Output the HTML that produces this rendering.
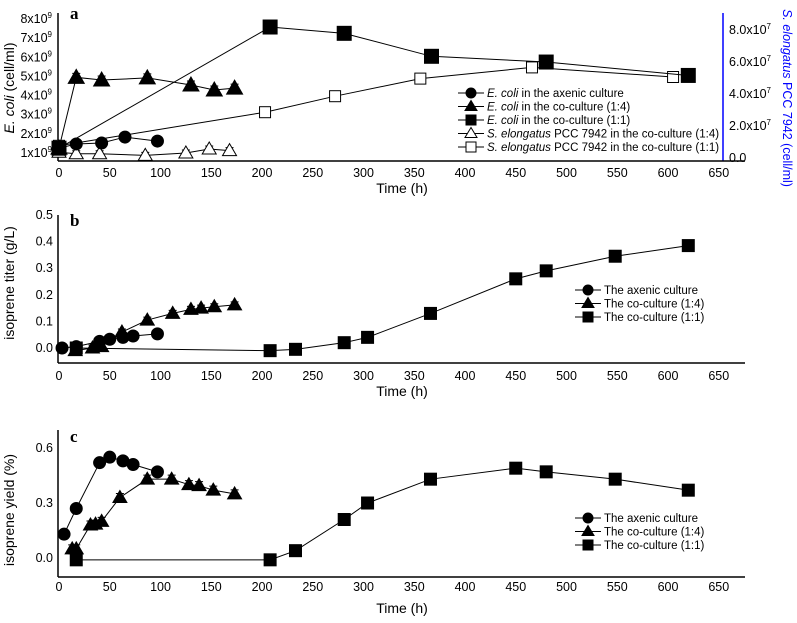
<!DOCTYPE html>
<html><head><meta charset="utf-8"><style>
html,body{margin:0;padding:0;background:#fff;}
svg{display:block;font-family:"Liberation Sans",Arial,sans-serif;}
</style></head><body>
<svg id="chart" width="797" height="623" viewBox="0 0 797 623" xmlns="http://www.w3.org/2000/svg"></svg>
<script>
// ---- data ----
const xTicks = [0,50,100,150,200,250,300,350,400,450,500,550,600,650];
// panel a (E. coli in 1e9 cell/ml, S. elongatus in 1e7 cell/ml)
const aAxenicT = [0,17,42,65,97];
const aAxenicV = [1.2,1.42,1.47,1.78,1.57];
const aCo14T = [0,17,42,87,130,153,173];
const aCo14V = [1.2,4.9,4.76,4.87,4.5,4.24,4.34];
const aCo11T = [0,208,281,367,480,620];
const aCo11V = [1.2,7.53,7.2,6.0,5.7,5.0];
const aSe14T = [0,17,40,85,125,148,168];
const aSe14V = [0.3,0.2,0.2,0.1,0.25,0.5,0.4];
const aSe11T = [0,203,272,356,466,605];
const aSe11V = [0.7,2.8,3.8,4.9,5.6,5.0];
const aLeftTicks = [1,2,3,4,5,6,7,8];
const aRightTicks = [0,2,4,6,8];
const aRightLabels = ["0.0","2.0x10","4.0x10","6.0x10","8.0x10"];
// panel b (isoprene titer g/L)
const bAxenicT = [3,17,40,50,63,73,97];
const bAxenicV = [0,0.005,0.025,0.033,0.04,0.045,0.053];
const bCo14T = [16,33,42,62,87,112,130,140,153,173];
const bCo14V = [-0.01,0,0.005,0.06,0.105,0.13,0.145,0.15,0.155,0.162];
const bCo11T = [17,208,233,281,304,366,450,480,548,620];
const bCo11V = [0,-0.01,-0.005,0.02,0.04,0.13,0.26,0.29,0.345,0.385];
const bTicks = [0,0.1,0.2,0.3,0.4,0.5];
// panel c (isoprene yield %)
const cAxenicT = [5,17,40,50,63,73,97];
const cAxenicV = [0.13,0.27,0.52,0.55,0.53,0.51,0.47];
const cCo14T = [13,17,31,36,42,60,87,111,128,138,152,173];
const cCo14V = [0.05,0.05,0.18,0.185,0.2,0.33,0.43,0.43,0.4,0.395,0.37,0.35];
const cCo11T = [17,208,233,281,304,366,450,480,548,620];
const cCo11V = [-0.01,-0.01,0.04,0.21,0.3,0.43,0.49,0.47,0.43,0.37];
const cTicks = [0,0.3,0.6];

const svg = document.getElementById('chart');
const NS = 'http://www.w3.org/2000/svg';
function el(tag, attrs, parent){const e=document.createElementNS(NS,tag);for(const k in attrs)e.setAttribute(k,attrs[k]);(parent||svg).appendChild(e);return e;}
function xs(t){return 59 + t*1.015;}
function txt(x,y,s,opts,name){const t=el('text',Object.assign({x:x,y:y,'font-size':12,fill:'#000'},opts||{}));t.textContent=s;


return t;}
function marker(shape,x,y,filled,g,s){
  s=s||7;let m;
  const f=filled?'#000':'#fff';
  if(shape==='c') m=el('circle',{cx:x,cy:y,r:s,fill:f,stroke:'#000','stroke-width':1},g);
  else if(shape==='t') m=el('polygon',{points:`${x},${y-s-1} ${x-s-1},${y+s-1} ${x+s+1},${y+s-1}`,fill:f,stroke:'#000','stroke-width':1},g);
  else m=el('rect',{x:x-s,y:y-s,width:2*s,height:2*s,fill:f,stroke:'#000','stroke-width':1},g);
  
  
  return m;
}
function series(T,V,ys,shape,filled,name,s,err){
  const g=el('g',{});
  
  
  const pts=T.map((t,i)=>xs(t)+','+ys(V[i])).join(' ');
  const l=el('polyline',{points:pts,fill:'none',stroke:'#000','stroke-width':1},g);
  
  
  T.forEach((t,i)=>{
    if(err){const x=xs(t),y=ys(V[i]);el('path',{d:`M${x},${y-err} V${y+err} M${x-4},${y-err} H${x+4} M${x-4},${y+err} H${x+4}`,stroke:'#000','stroke-width':1,fill:'none'},g);}
    marker(shape,xs(t),ys(V[i]),filled,g,s);
  });
}
function xAxis(y,labY,titleY,name){
  const g=el('g',{});
  
  
  el('line',{x1:58,y1:y,x2:745,y2:y,stroke:'#000','stroke-width':1.5},g);
  xTicks.forEach(t=>{const tt=txt(xs(t),labY,String(t),{'text-anchor':'middle','font-size':12.5},'x-tick-label');g.appendChild(tt);});
  const ti=txt(402,titleY,'Time (h)',{'text-anchor':'middle','font-size':14},'x-axis-title');g.appendChild(ti);
}
function yAxis(top,bottom,ticks,ys,fmt,name){
  const g=el('g',{});
  
  
  el('line',{x1:58,y1:top,x2:58,y2:bottom,stroke:'#000','stroke-width':1.5},g);
  ticks.forEach(v=>{const t=txt(53,ys(v)+4,fmt(v),{'text-anchor':'end','font-size':12.5},'y-tick-label');g.appendChild(t);});
}

// ---- Panel a ----
const yaL=v=>152-(v-1)*19.14;
const yaR=v=>157-v*16;
yAxis(13,161,[],yaL,v=>'', 'a-left-axis');
aLeftTicks.forEach(v=>{const t=el('text',{x:52,y:yaL(v)+5,'text-anchor':'end','font-size':12.5});


t.innerHTML=v+'x10<tspan dy="-5" font-size="8">9</tspan>';});
const ra=el('line',{x1:723,y1:13,x2:723,y2:161,stroke:'#0000ff','stroke-width':1.5});


aRightTicks.forEach((v,i)=>{const t=el('text',{x:729,y:yaR(v)+5,'font-size':12.5});


t.innerHTML=aRightLabels[i]+(v>0?'<tspan dy="-5" font-size="8">7</tspan>':'');});
xAxis(161,177,193,'a-x-axis');
const at=el('text',{x:14,y:88,transform:'rotate(-90 14 88)','text-anchor':'middle','font-size':14});


at.innerHTML='<tspan font-style="italic">E. coli</tspan> (cell/ml)';
const art=el('text',{x:783,y:98,transform:'rotate(90 783 98)','text-anchor':'middle','font-size':12.5,fill:'#0000ff'});


art.innerHTML='<tspan font-style="italic">S. elongatus</tspan> PCC 7942 (cell/ml)';
txt(70,19,'a',{'font-family':'"Liberation Serif",serif','font-weight':'bold','font-size':17},'panel-a-label');
series(aSe14T,aSe14V,yaR,'t',false,'a-se-coculture-1-4',6,3);
series(aSe11T,aSe11V,yaR,'s',false,'a-se-coculture-1-1',5.5,4);
series(aAxenicT,aAxenicV,yaL,'c',true,'a-ecoli-axenic',6);
series(aCo14T,aCo14V,yaL,'t',true,'a-ecoli-coculture-1-4',7,4);
series(aCo11T,aCo11V,yaL,'s',true,'a-ecoli-coculture-1-1',7,5);
// legend a
const legA=[['c',true,'<tspan font-style="italic">E. coli</tspan> in the axenic culture'],['t',true,'<tspan font-style="italic">E. coli</tspan> in the co-culture (1:4)'],['s',true,'<tspan font-style="italic">E. coli</tspan> in the co-culture (1:1)'],['t',false,'<tspan font-style="italic">S. elongatus</tspan> PCC 7942 in the co-culture (1:4)'],['s',false,'<tspan font-style="italic">S. elongatus</tspan> PCC 7942 in the co-culture (1:1)']];
function legend(items,x,y0,dy,name){
  const g=el('g',{});
  
  
  items.forEach((it,i)=>{const y=y0+i*dy;
    const e=el('g',{},g);
    
    
    el('line',{x1:x-13,y1:y,x2:x+13,y2:y,stroke:'#000'},e);
    marker(it[0],x,y,it[1],e,5);
    const t=el('text',{x:x+16,y:y+4,'font-size':11.5},e);t.innerHTML=it[2];
  });
}
legend(legA,471,93,13.5,'a-legend');

// ---- Panel b ----
const yb=v=>348-v*266;
yAxis(215,363,bTicks,yb,v=>v.toFixed(1),'b-y-axis');
xAxis(363,380,396,'b-x-axis');
txt(14,283,'isoprene titer (g/L)',{transform:'rotate(-90 14 283)','text-anchor':'middle','font-size':14},'b-y-axis-title');
txt(70,226,'b',{'font-family':'"Liberation Serif",serif','font-weight':'bold','font-size':17},'panel-b-label');
series(bCo11T,bCo11V,yb,'s',true,'b-coculture-1-1',6);
series(bCo14T,bCo14V,yb,'t',true,'b-coculture-1-4',6,3);
series(bAxenicT,bAxenicV,yb,'c',true,'b-axenic',6);
const legB=[['c',true,'The axenic culture'],['t',true,'The co-culture (1:4)'],['s',true,'The co-culture (1:1)']];
legend(legB,588,290,13.5,'b-legend');

// ---- Panel c ----
const yc=v=>558-v*183.3;
yAxis(430,577,cTicks,yc,v=>v.toFixed(1),'c-y-axis');
xAxis(577,591,613,'c-x-axis');
txt(14,510,'isoprene yield (%)',{transform:'rotate(-90 14 510)','text-anchor':'middle','font-size':14},'c-y-axis-title');
txt(70,442,'c',{'font-family':'"Liberation Serif",serif','font-weight':'bold','font-size':17},'panel-c-label');
series(cCo11T,cCo11V,yc,'s',true,'c-coculture-1-1',6);
series(cCo14T,cCo14V,yc,'t',true,'c-coculture-1-4',6,4);
series(cAxenicT,cAxenicV,yc,'c',true,'c-axenic',6);
legend(legB,588,518,13.5,'c-legend');
</script>
</body></html>
